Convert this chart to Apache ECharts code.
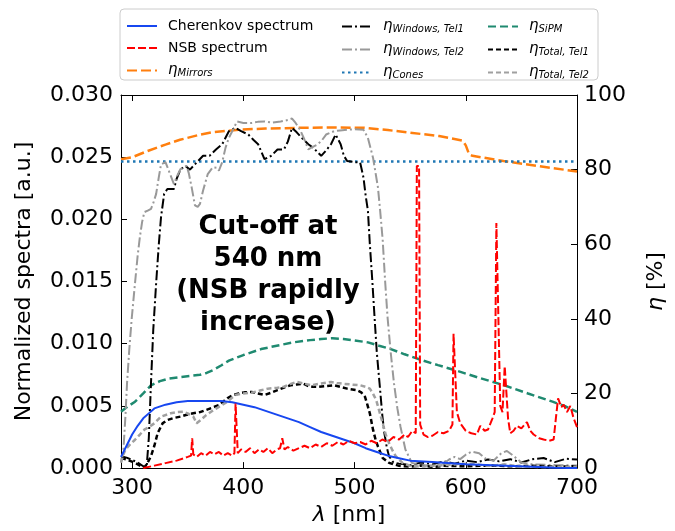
<!DOCTYPE html>
<html>
<head>
<meta charset="utf-8">
<script src="https://cdn.jsdelivr.net/npm/echarts@6/dist/echarts.min.js"></script>
<style>
html,body{margin:0;padding:0;background:#fff;}
#chart{width:675px;height:531px;}
</style>
</head>
<body>
<div id="chart"></div>
<script>
// ---------- data (lambda [nm], value) ----------
const cherenkov = [[290,0.0009],[295,0.0018],[300,0.0027],[305,0.0034],[310,0.0040],[315,0.0044],[320,0.0048],[330,0.0051],[340,0.0053],[350,0.0054],[360,0.0054],[370,0.0054],[380,0.0054],[390,0.0053],[400,0.0051],[410,0.0049],[420,0.0046],[430,0.0043],[440,0.0040],[450,0.0037],[460,0.0033],[470,0.0029],[480,0.0026],[490,0.0023],[500,0.0020],[510,0.0016],[520,0.0013],[530,0.0010],[540,0.0008],[550,0.0006],[570,0.0005],[600,0.0003],[630,0.0002],[660,0.0001],[680,0.00002],[700,0]];
const nsb = [[310,0],[315,0.0001],[320,0.0002],[330,0.0004],[340,0.0006],[350,0.0009],[353,0.0010],[354,0.0024],[355,0.0011],[358,0.0009],[362,0.0012],[366,0.0010],[370,0.0013],[374,0.0011],[378,0.0013],[382,0.0010],[386,0.0012],[390,0.0010],[392,0.0012],[393,0.0052],[394,0.0052],[395,0.0012],[398,0.0015],[402,0.0013],[406,0.0016],[410,0.0012],[414,0.0015],[418,0.0013],[422,0.0016],[426,0.0012],[430,0.0015],[433,0.0016],[435,0.0024],[437,0.0015],[440,0.0017],[445,0.0014],[450,0.0016],[455,0.0018],[460,0.0016],[465,0.0019],[470,0.0017],[475,0.0020],[480,0.0018],[485,0.0021],[490,0.0019],[495,0.0022],[500,0.0020],[505,0.0021],[510,0.0019],[515,0.0022],[520,0.0020],[525,0.0023],[530,0.0021],[535,0.0025],[540,0.0023],[545,0.0027],[548,0.0025],[552,0.0030],[555,0.0028],[556,0.0243],[558,0.0243],[559,0.0035],[562,0.0027],[566,0.0025],[570,0.0026],[575,0.0029],[580,0.0028],[585,0.0030],[588,0.0035],[589,0.0108],[590,0.0108],[592,0.0045],[595,0.0036],[600,0.0030],[605,0.0028],[610,0.0027],[613,0.0034],[617,0.0030],[620,0.0031],[624,0.0040],[626,0.0045],[627.5,0.0197],[629,0.0197],[631,0.0050],[633,0.0045],[635,0.0082],[636,0.0082],[638,0.0040],[640,0.0028],[643,0.0030],[646,0.0034],[650,0.0032],[655,0.0037],[658,0.0030],[661,0.0027],[666,0.0024],[670,0.0023],[675,0.0022],[679,0.0023],[681,0.0040],[683,0.0056],[686,0.0049],[688,0.0051],[691,0.0045],[694,0.0050],[697,0.0040],[700,0.0033]];
const mirrors = [[290,82.8],[300,83.3],[314,85],[330,86.7],[343,88],[360,89.3],[372,90],[396,90.7],[420,91],[450,91.2],[480,91.3],[509,91.2],[530,90.6],[547,90],[576,89],[597,87.8],[600,86.5],[603,84.1],[606,83.7],[634,82.3],[664,81],[700,79.5]];
const cones = [[290,82.2],[700,82.2]];
const sipm = [[290,15.1],[296,16.5],[302.6,17.8],[310,20],[317,22.2],[325,23.3],[333,24],[343,24.4],[352,24.7],[361,25],[367,25.5],[372.5,26.2],[380,27.5],[387,28.8],[400,30.3],[416,31.9],[430,32.8],[445,33.7],[460,34.3],[470,34.6],[480,34.8],[490,34.6],[500,34.2],[512,33.7],[522,32.8],[532.6,31.9],[545,30.5],[561.8,28.8],[575,27.6],[590.8,26.2],[612,24.2],[634.5,22.2],[656,20],[678,17.8],[690,16.5],[700,15.1]];
const windowsTel1 = [[290,3.2],[295,2.8],[300,2.2],[305,1.5],[310,0.5],[313,0.1],[315,8],[317,23],[319,37],[321.6,49.6],[324,60],[326,67.3],[328.8,73.5],[331.7,74.8],[337.6,74.8],[340,77.5],[343.4,80],[347.8,81],[352,80],[358,81.9],[363.8,83.7],[369.6,83.7],[375.4,85.4],[381,86.8],[387,90.3],[392.8,91.2],[398,90.3],[404.5,89.4],[409,88],[413.3,86.8],[419,82.8],[425,83.7],[430.7,85.4],[436.5,85.4],[440,87.5],[443.8,91.2],[448,90],[452.6,88.5],[458.4,86.8],[462.7,85.9],[470,83.7],[474,85],[478.8,86.8],[483,89.4],[487.5,86.8],[490.4,83.7],[493.3,82.3],[500,82],[505,81.9],[508,77.9],[510,73],[512,69],[513.7,60.2],[516,50],[518,40.3],[520,31],[522.5,22.6],[525,14],[526.8,9.4],[529,5.5],[531,3.2],[535,1.5],[540,1.2],[550,0.8],[560,1.5],[570,1.0],[580,1.8],[590,1.2],[600,2.0],[610,1.6],[620,2.3],[630,1.8],[640,2.4],[650,1.5],[660,2.4],[670,2.7],[680,1.6],[690,2.5],[700,2.3]];
const windowsTel2 = [[290,1.5],[292,4],[294,14],[295.4,22.6],[297.5,32],[299.7,40.3],[302.6,49.6],[305,57],[307,62],[309,66],[311,68.6],[314,69],[317,69.5],[319,71],[321.6,73.5],[324,78],[326,81.4],[330,82],[333,79.7],[337.6,76.1],[340,78],[343.4,80.1],[349,81],[351,79],[353.5,75.3],[356.5,70.4],[359,70],[361,70.8],[363.8,74.4],[368,78.8],[372.5,80.6],[376,80.5],[378,79.7],[381,82],[384,85.9],[387,88.5],[390,90.3],[394.3,92.9],[400,92.5],[407.4,92.5],[413,92.8],[419,92.9],[426,92.6],[433.6,92.9],[440,93.3],[443.8,93.7],[447,92.5],[451,90.7],[455,88],[458.4,85.4],[462,86],[467,86.8],[471,88],[474.4,89.4],[481.7,90.3],[487,90.5],[493.3,90.7],[500,90.8],[508,90.7],[512,88.5],[516.6,83.2],[521,75.3],[523,69],[525.3,61.1],[527.5,50],[529.7,40.3],[532.5,31],[535.5,22.6],[538.5,16],[541.3,11.1],[545.7,5],[551.5,1.4],[560,0.8],[570,0.6],[580,1.2],[585,2.3],[590,3.0],[595,2.4],[600,3.6],[605,4.4],[612,4.0],[618,2.5],[625,2.0],[632,4.0],[637,4.6],[642,3.5],[650,1.5],[660,1.0],[680,0.8],[700,0.7]];
const totalTel1 = [[290,2.7],[296,2.2],[302.6,1.4],[308,0.5],[311,0.1],[314,1.5],[317,3.2],[320,6],[323,9.4],[327.4,12],[331.7,12.9],[337,13.4],[343.4,13.8],[349,14.3],[355,14.7],[361,15],[366.6,15.6],[372,16.2],[378,16.9],[385.6,18.7],[390,19.5],[395.8,20],[401,20.3],[407.4,20.4],[413,20],[419,19.6],[425,20.2],[430.7,20.9],[436,21.5],[442.4,22.2],[448,22.4],[454,22.6],[460,21.8],[467,21.8],[474,22],[481.7,22.2],[487,21.8],[493.3,21.3],[502,20.9],[506,20.3],[509.4,19.1],[511.5,17],[513.7,14.7],[516.6,10.3],[519,7.5],[521,5.8],[525.3,2.7],[531,1.4],[540,0.6],[550,0.4],[560,0.7],[570,0.3],[580,0.6],[600,0.5],[620,0.7],[640,0.5],[660,0.6],[680,0.4],[700,0.5]];
const totalTel2 = [[290,1.5],[292,3.5],[294,5],[298,6.3],[302.6,7.6],[307,9],[311,10.3],[316,11.2],[320,12],[326,13.8],[334.7,14.7],[340,15],[346.3,15.1],[351,14.5],[355,13.8],[358,12],[362,13],[366.6,14.2],[372,15.3],[378,16.4],[385.6,17.8],[392.8,19.6],[400,20],[407.4,20.2],[415,20.8],[422,21.3],[430,21.5],[436.5,21.8],[442,22.5],[448,23.1],[454,22.7],[461,22.2],[470,22.7],[478.8,23.1],[484,22.8],[490,22.6],[497,22.4],[505,22.2],[510,21.8],[513.7,21.3],[516.5,20],[519.5,18.2],[522.5,15],[525.3,12],[528,9],[531,6.7],[534,4.8],[537,3.2],[543,1.4],[550,0.6],[560,0.4],[580,0.8],[600,1.2],[610,1.0],[620,0.6],[635,1.0],[650,0.4],[670,0.3],[700,0.4]];

const xTicks = [300, 400, 500, 600, 700];
const leftTickLabels = ['0.000','0.005','0.010','0.015','0.020','0.025','0.030'];
const rightTickLabels = ['0','20','40','60','80','100'];
const annotationText = 'Cut-off at\n540 nm\n(NSB rapidly\nincrease)';

const legendLabels = {
  'Cherenkov spectrum': 'Cherenkov spectrum',
  'NSB spectrum': 'NSB spectrum',
  'Mirrors': '{e|η}{s|Mirrors}',
  'Windows, Tel1': '{e|η}{s|Windows, Tel1}',
  'Windows, Tel2': '{e|η}{s|Windows, Tel2}',
  'Cones': '{e|η}{s|Cones}',
  'SiPM': '{e|η}{s|SiPM}',
  'Total, Tel1': '{e|η}{s|Total, Tel1}',
  'Total, Tel2': '{e|η}{s|Total, Tel2}'
};

const FONT = 'DejaVu Sans';
const chart = echarts.init(document.getElementById('chart'), null, {renderer: 'canvas'});

function mkLine(name, data, color, type, width, yIdx) {
  return {
    name: name, type: 'line', data: data, yAxisIndex: yIdx, xAxisIndex: 0,
    showSymbol: false, symbol: 'none', smooth: false, animation: false,
    lineStyle: {color: color, type: type, width: width, cap: 'butt'},
    itemStyle: {color: color},
    emphasis: {disabled: true}
  };
}

const legendText = {
  fontSize: 14, fontFamily: FONT, color: '#000', padding: [0, 0, 0, 6],
  rich: {
    e: {fontSize: 15, fontStyle: 'italic', fontFamily: FONT, color: '#000'},
    s: {fontSize: 10, fontStyle: 'italic', fontFamily: FONT, color: '#000', verticalAlign: 'bottom', lineHeight: 10}
  }
};
function mkLegend(left, data) {
  return {
    orient: 'vertical', left: left, top: 14, itemWidth: 30, itemHeight: 14, itemGap: 8,
    data: data, formatter: n => legendLabels[n], textStyle: legendText,
    itemStyle: {opacity: 0},
    selectedMode: false
  };
}

const axisLineStyle = {show: true, onZero: false, lineStyle: {color: '#000', width: 1}};

const option = {
  backgroundColor: '#fff',
  animation: false,
  grid: {left: 121, right: 84, top: 95, bottom: 59, containLabel: false},
  title: {
    text: annotationText, left: 263, top: 206, textAlign: 'center',
    textStyle: {fontFamily: FONT, fontWeight: 'bold', fontSize: 26, lineHeight: 32, color: '#000'}
  },
  legend: [
    mkLegend(121, ['Cherenkov spectrum', 'NSB spectrum', 'Mirrors']),
    mkLegend(336, ['Windows, Tel1', 'Windows, Tel2', 'Cones']),
    mkLegend(482, ['SiPM', 'Total, Tel1', 'Total, Tel2'])
  ],
  graphic: [{
    type: 'rect', shape: {x: 120, y: 9, width: 478, height: 71, r: 4}, z: -1,
    style: {fill: '#fff', stroke: '#cccccc', lineWidth: 1}, silent: true
  }],
  xAxis: [{
    type: 'value', min: 290, max: 700, position: 'bottom',
    name: '{i|λ} [nm]', nameLocation: 'middle', nameGap: 34,
    nameTextStyle: {fontSize: 22, fontFamily: FONT, color: '#000', rich: {i: {fontSize: 22, fontStyle: 'italic', fontFamily: FONT, color: '#000'}}},
    axisLine: axisLineStyle,
    axisTick: {show: true, inside: true, length: 6, customValues: xTicks, lineStyle: {color: '#000'}},
    axisLabel: {show: true, customValues: xTicks, fontSize: 22, fontFamily: FONT, color: '#000', margin: 9, formatter: v => String(v)},
    splitLine: {show: false}
  }, {
    type: 'value', min: 290, max: 700, position: 'top',
    axisLine: axisLineStyle,
    axisTick: {show: true, inside: true, length: 6, customValues: xTicks, lineStyle: {color: '#000'}},
    axisLabel: {show: false},
    splitLine: {show: false}
  }],
  yAxis: [{
    type: 'value', min: 0, max: 0.03, interval: 0.005, position: 'left',
    name: 'Normalized spectra [a.u.]', nameLocation: 'middle', nameRotate: 90, nameGap: 86,
    nameTextStyle: {fontSize: 22, fontFamily: FONT, color: '#000'},
    axisLine: axisLineStyle,
    axisTick: {show: true, inside: true, length: 6, lineStyle: {color: '#000'}},
    axisLabel: {fontSize: 22, fontFamily: FONT, color: '#000', margin: 8,
      formatter: v => leftTickLabels[Math.round(v / 0.005)]},
    splitLine: {show: false}
  }, {
    type: 'value', min: 0, max: 100, interval: 20, position: 'right',
    name: '{i|η} [%]', nameLocation: 'middle', nameRotate: 90, nameGap: 68,
    nameTextStyle: {fontSize: 22, fontFamily: FONT, color: '#000', rich: {i: {fontSize: 22, fontStyle: 'italic', fontFamily: FONT, color: '#000'}}},
    axisLine: axisLineStyle,
    axisTick: {show: true, inside: true, length: 6, lineStyle: {color: '#000'}},
    axisLabel: {fontSize: 22, fontFamily: FONT, color: '#000', margin: 7,
      formatter: v => rightTickLabels[Math.round(v / 20)]},
    splitLine: {show: false}
  }],
  series: [
    mkLine('Mirrors', mirrors, '#ff7f0e', [10, 4], 2.5, 1),
    mkLine('Cones', cones, '#1f77b4', [2.5, 3.5], 2.5, 1),
    mkLine('SiPM', sipm, '#1f8a70', [8, 4], 2.5, 1),
    mkLine('Windows, Tel1', windowsTel1, '#000000', [10, 3, 2, 3], 2, 1),
    mkLine('Windows, Tel2', windowsTel2, '#999999', [10, 3, 2, 3], 2, 1),
    mkLine('Total, Tel1', totalTel1, '#000000', [5, 3], 2.5, 1),
    mkLine('Total, Tel2', totalTel2, '#a0a0a0', [5, 3], 2.5, 1),
    mkLine('Cherenkov spectrum', cherenkov, '#1747f0', 'solid', 2, 0),
    mkLine('NSB spectrum', nsb, '#ff0000', [8, 3], 2, 0)
  ]
};
chart.setOption(option);
</script>
</body>
</html>
